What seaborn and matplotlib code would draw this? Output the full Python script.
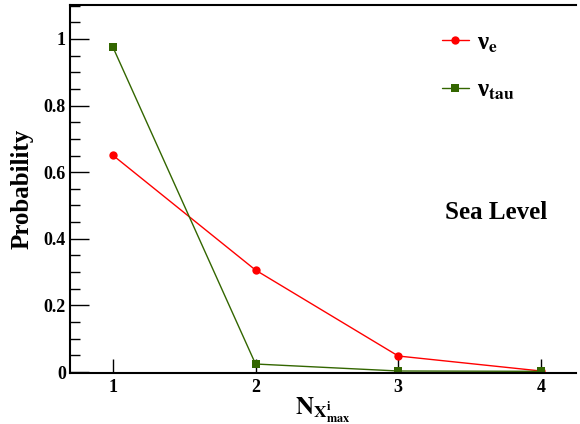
import pandas as pd
import matplotlib
matplotlib.use("Agg")
import matplotlib.pyplot as plt
from matplotlib.ticker import MultipleLocator
import seaborn as sns

# ----------------------------------------------------------
# Data
# ----------------------------------------------------------
n_xmax = [1, 2, 3, 4]
prob_nu_e = [0.651, 0.306, 0.048, 0.003]
prob_nu_tau = [0.976, 0.024, 0.003, 0.002]

sns.set_theme(style="ticks")
plt.rcParams["font.family"] = ["Liberation Serif", "DejaVu Serif"]
plt.rcParams["font.weight"] = "bold"
plt.rcParams["mathtext.fontset"] = "stix"
plt.rcParams["text.color"] = "black"
plt.rcParams["axes.labelcolor"] = "black"

fig = plt.figure(figsize=(5.8, 4.24), dpi=100)
ax = fig.add_axes([70 / 580, 1 - 373 / 424, (576 - 70) / 580, (373 - 5) / 424])

sns.lineplot(x=n_xmax, y=prob_nu_e, ax=ax, color="#ff0000", marker="o",
             markersize=6, markeredgewidth=0, linewidth=1.0,
             label="ν$_{\\mathbf{e}}$")
sns.lineplot(x=n_xmax, y=prob_nu_tau, ax=ax, color="#336600", marker="s",
             markersize=6, markeredgewidth=0, linewidth=1.0,
             label="ν$_{\\mathbf{tau}}$")

ax.set_xlim(0.70, 4.245)
ax.set_ylim(-0.003, 1.102)
ax.set_xticks(n_xmax)
ax.yaxis.set_major_locator(MultipleLocator(0.2))
ax.yaxis.set_minor_locator(MultipleLocator(0.05))
ax.set_yticks([0, 0.2, 0.4, 0.6, 0.8, 1.0])
ax.set_yticklabels(["0", "0.2", "0.4", "0.6", "0.8", "1"])
ax.tick_params(axis="both", which="both", direction="in", labelsize=13,
               width=1.0, colors="black")
ax.tick_params(axis="y", which="major", length=14, pad=3)
ax.tick_params(axis="y", which="minor", length=7)
ax.tick_params(axis="x", which="major", length=10, pad=4)
for lab in ax.get_xticklabels() + ax.get_yticklabels():
    lab.set_fontweight("bold")

ax.spines["right"].set_visible(False)
for s in ["left", "bottom", "top"]:
    ax.spines[s].set_linewidth(1.5)
    ax.spines[s].set_color("black")

ax.set_ylabel("Probability", fontsize=18, fontweight="bold", labelpad=7)
ax.set_xlabel(r"$\mathbf{N_{X^{i}_{max}}}$", fontsize=18, labelpad=0)

leg = ax.legend(loc="upper left", bbox_to_anchor=(0.69, 0.99), frameon=False,
                fontsize=18, handlelength=1.1, handletextpad=0.3,
                labelspacing=0.95)

ax.text(0.842, 0.435, "Sea Level", transform=ax.transAxes, fontsize=18,
        fontweight="bold", ha="center", va="center")

fig.savefig("out.png", dpi=100)
